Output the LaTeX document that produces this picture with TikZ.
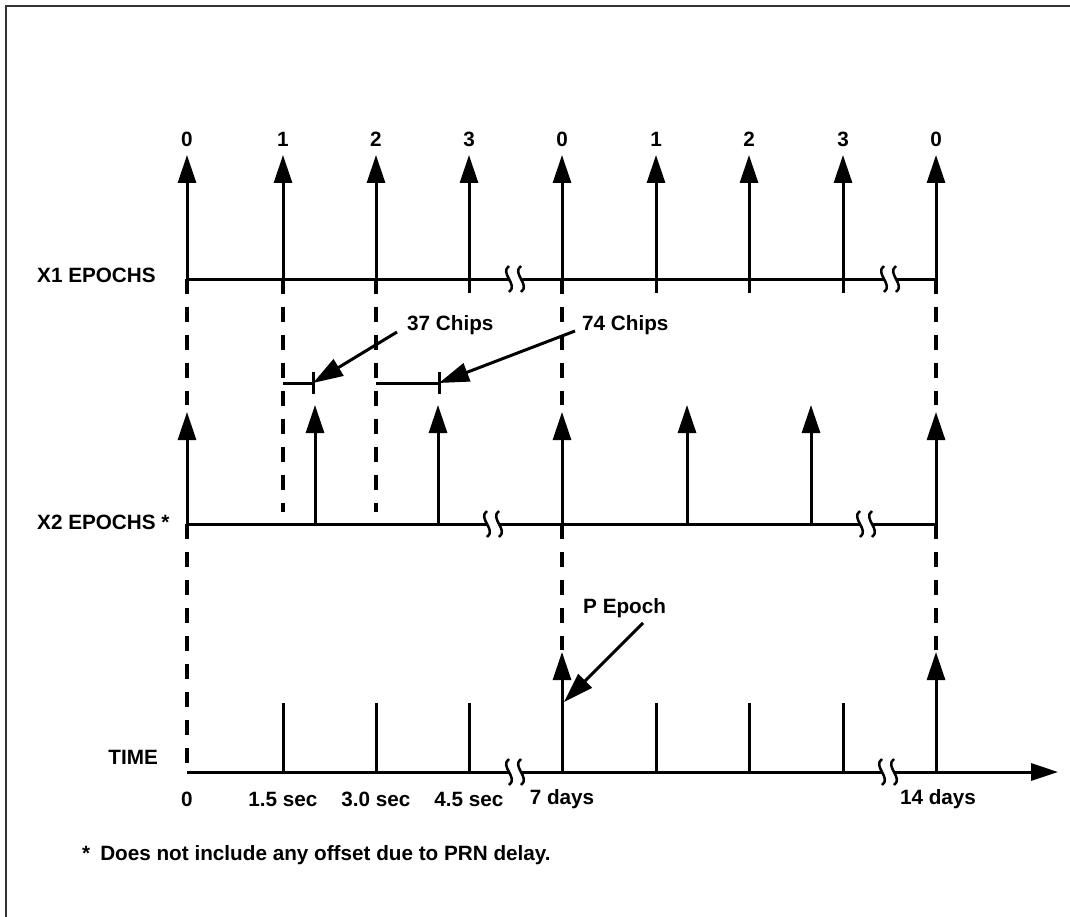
\documentclass[tikz,border=0pt]{standalone}
\usepackage{fontspec}
\setmainfont{Liberation Sans}
\usetikzlibrary{arrows.meta}
\tikzset{
  axisline/.style={line width=3pt},
  epoch/.style={line width=3pt, -{Triangle[length=28pt,width=18pt]}},
  tickline/.style={line width=3pt},
  guide/.style={line width=3.5pt, dash pattern=on 15pt off 13pt},
  callout/.style={line width=3pt, -{Triangle[length=30pt,width=19pt]}},
  lbl/.style={font=\fontsize{20.7}{24}\selectfont\bfseries, inner sep=0pt},
  frameline/.style={line width=2pt, draw=black!80},
  pics/brk/.style={code={
    \draw[line width=2.5pt] (0,-13) .. controls (-10,-6) and (10,6) .. (0,13);
  }}
}
\begin{document}
\begin{tikzpicture}[x=1pt,y=-1pt]
\useasboundingbox (0,0) rectangle (1070,917);
% frame
\coordinate (fTL) at (6,6);
\coordinate (fTR) at (1070,6);
\coordinate (fBL) at (6,917);
\draw[frameline] (fBL) -- (fTL) -- (fTR);

% ---------- X1 epochs ----------
\node[lbl, anchor=west] (lx1) at (37,275) {X1 EPOCHS};
\foreach \x/\t [count=\i] in {187/0,283/1,376/2,469/3,562/0,656/1,749/2,843/3,936/0}{
  \coordinate (a\i b) at (\x,293);
  \coordinate (a\i t) at (\x,155);
  \draw[epoch] (a\i b) -- (a\i t);
  \node[lbl] (n\i) at (\x,139) {\t};
}
\coordinate (x1s) at (187,279);
\coordinate (x1a) at (509,279);
\coordinate (x1b) at (521,279);
\coordinate (x1c) at (884,279);
\coordinate (x1d) at (896,279);
\coordinate (x1e) at (936,279);
\draw[axisline] (x1s) -- (x1a) (x1b) -- (x1c) (x1d) -- (x1e);
\pic at (x1a) {brk}; \pic at (x1b) {brk};
\pic at (x1c) {brk}; \pic at (x1d) {brk};

% ---------- guides ----------
\coordinate (g1a) at (187,279); \coordinate (g1b) at (187,405);
\coordinate (g2a) at (562,279); \coordinate (g2b) at (562,405);
\coordinate (g3a) at (936,279); \coordinate (g3b) at (936,405);
\coordinate (g4a) at (283,279); \coordinate (g4b) at (283,512);
\coordinate (g5a) at (376,279); \coordinate (g5b) at (376,512);
\coordinate (g6a) at (187,524); \coordinate (g6b) at (187,770);
\coordinate (g7a) at (562,524); \coordinate (g7b) at (562,650);
\coordinate (g8a) at (936,524); \coordinate (g8b) at (936,650);
\foreach \g in {1,...,8}{ \draw[guide] (g\g a) -- (g\g b); }

% ---------- X2 epochs ----------
\node[lbl, anchor=west] (lx2) at (37,522) {X2 EPOCHS *};
\foreach \x/\y [count=\i] in {187/412,315/405,438/405,562/412,687/405,811/405,936/412}{
  \coordinate (e\i b) at (\x,524);
  \coordinate (e\i t) at (\x,\y);
  \draw[epoch] (e\i b) -- (e\i t);
}
\coordinate (x2s) at (187,524);
\coordinate (x2a) at (487,524);
\coordinate (x2b) at (499,524);
\coordinate (x2c) at (860,524);
\coordinate (x2d) at (872,524);
\coordinate (x2e) at (936,524);
\draw[axisline] (x2s) -- (x2a) (x2b) -- (x2c) (x2d) -- (x2e);
\pic at (x2a) {brk}; \pic at (x2b) {brk};
\pic at (x2c) {brk}; \pic at (x2d) {brk};

% ---------- chip offsets ----------
\coordinate (c1a) at (283,383); \coordinate (c1b) at (313,383);
\coordinate (c1u) at (313,372); \coordinate (c1d) at (313,394);
\coordinate (c2a) at (376,383); \coordinate (c2b) at (439,383);
\coordinate (c2u) at (439,372); \coordinate (c2d) at (439,394);
\draw[tickline] (c1a) -- (c1b) (c1u) -- (c1d);
\draw[tickline] (c2a) -- (c2b) (c2u) -- (c2d);
\node[lbl, anchor=west] (t37) at (407,325) {37 Chips};
\node[lbl, anchor=west] (t74) at (582,325) {74 Chips};
\coordinate (s37) at (397,332);
\coordinate (s74) at (575,331);
\draw[callout] (s37) -- (c1b);
\draw[callout] (s74) -- (c2b);

% ---------- TIME ----------
\node[lbl, anchor=east] (ltime) at (158,757) {TIME};
\coordinate (ts) at (187,772);
\coordinate (ta) at (509,772);
\coordinate (tb) at (521,772);
\coordinate (tc) at (882,772);
\coordinate (td) at (894,772);
\coordinate (te) at (1058,772);
\draw[axisline] (ts) -- (ta) (tb) -- (tc);
\draw[axisline, -{Triangle[length=27pt,width=17pt]}] (td) -- (te);
\pic at (ta) {brk}; \pic at (tb) {brk};
\pic at (tc) {brk}; \pic at (td) {brk};
\foreach \x [count=\i] in {283,376,469,656,749,843}{
  \coordinate (k\i t) at (\x,703);
  \coordinate (k\i b) at (\x,772);
  \draw[tickline] (k\i t) -- (k\i b);
}
\coordinate (p1b) at (562,772); \coordinate (p1t) at (562,652);
\coordinate (p2b) at (936,772); \coordinate (p2t) at (936,652);
\draw[epoch] (p1b) -- (p1t);
\draw[epoch] (p2b) -- (p2t);
\foreach \x/\t [count=\i] in {187/0,283/1.5 sec,376/3.0 sec,469/4.5 sec,562/7 days,938/14 days}{
  \node[lbl] (tl\i) at (\x,799) {\t};
}
\node[lbl, anchor=west] (tp) at (583,608) {P Epoch};
\coordinate (sp) at (643,623);
\coordinate (ep) at (564,702);
\draw[callout] (sp) -- (ep);

% ---------- footnote ----------
\node[lbl, anchor=west] (fn) at (82,855) {*\hspace{10pt}Does not include any offset due to PRN delay.};
\end{tikzpicture}
\end{document}
